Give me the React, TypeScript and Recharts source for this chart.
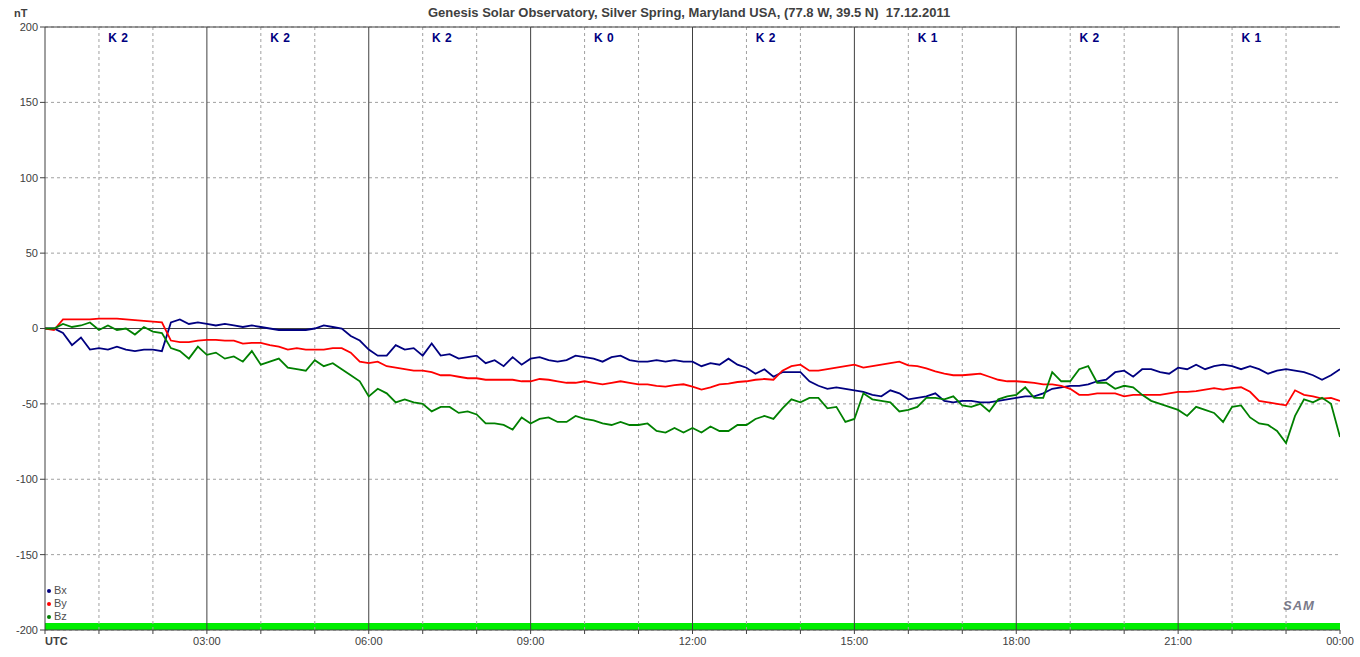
import { LineChart, Line, XAxis, YAxis, CartesianGrid, ReferenceLine, ReferenceArea, ReferenceDot } from "recharts";

// 10-minute readings, 00:00 .. 24:00 UTC
const BX = [
  0, 0, -3, -11, -6, -14, -13, -14, -12, -14, -15, -14, -14, -15, 4, 6, 3, 4,
  3, 2, 3, 2, 1, 2, 1, 0, -1, -1, -1, -1, 0, 2, 1, 0, -5, -8,
  -14, -18, -18, -11, -14, -13, -18, -10, -18, -17, -20, -19, -18, -23, -21, -25, -19, -24,
  -20, -19, -21, -22, -21, -18, -19, -20, -22, -19, -18, -21, -22, -22, -21, -22, -21, -22,
  -22, -25, -23, -24, -20, -24, -26, -30, -27, -32, -29, -29, -29, -35, -38, -40, -39, -40,
  -41, -42, -44, -45, -41, -43, -47, -46, -45, -43, -48, -49, -48, -48, -49, -49, -48, -47,
  -46, -45, -45, -43, -40, -39, -38, -38, -37, -35, -34, -29, -28, -32, -27, -27, -29, -30,
  -26, -27, -24, -27, -25, -24, -25, -27, -25, -27, -30, -28, -27, -28, -29, -31, -34, -31, -27,
];
const BY = [
  0, -1, 6, 6, 6, 6, 6.5, 6.5, 6.5, 6, 5.5, 5, 4.5, 4, -8, -9, -9, -8,
  -7.5, -7.5, -8, -8, -10, -9.5, -9.5, -11, -12, -14, -13, -14, -14, -14, -13, -13, -16, -22,
  -23, -22, -25, -26, -27, -28, -28, -29, -31, -31, -32, -33, -33, -34, -34, -34, -34, -35,
  -35, -33.5, -34, -35, -36, -36, -35, -36, -37, -36, -35, -36, -37, -37, -38, -38.5, -37.5, -37,
  -38.5, -40.5, -39, -37, -36.5, -35.5, -35, -34, -33.5, -34, -28, -25, -24, -28, -28, -27, -26, -25,
  -24, -26, -25, -24, -23, -22, -24.5, -25, -26.5, -28.5, -30, -31, -31, -30.5, -30, -32, -34, -35,
  -35, -35.5, -36, -37, -37, -38, -40, -44, -44, -43, -43, -43, -45, -44, -44, -44, -44, -43,
  -42, -42, -41.5, -40.5, -39.5, -40.5, -39.5, -39, -42, -48, -49, -50, -51, -41, -44, -45, -46.5, -46, -48,
];
const BZ = [
  0, 0, 3, 1, 2, 4, -1, 2, -1, 0, -4, 1, -2, -3, -13, -15, -20, -12,
  -17.5, -16, -20, -18.5, -22, -15, -24, -22, -20, -26, -27, -28, -21, -25, -23, -27, -31, -35,
  -45, -40, -43, -49, -47, -49, -50, -55, -52, -52, -56, -55, -57, -63, -63, -64, -67, -59,
  -63, -60, -59, -62, -62, -58, -60, -61, -63, -64, -62, -64, -64, -63, -68, -69, -66, -69,
  -66, -69, -65, -68, -68, -64, -64, -60, -58, -60, -53, -47, -49, -46, -46, -53, -52, -62,
  -60, -43, -47, -48, -49, -55, -54, -52, -46, -46, -47, -45, -51, -52, -50, -55, -47, -45,
  -44, -39, -46, -46, -29, -35, -35, -27, -25, -36, -36, -40, -38, -39, -44, -48, -50, -52,
  -54, -58, -52, -54, -56, -62, -52, -51, -59, -63, -64, -68, -76, -58, -47, -49, -46, -50, -72,
];
const K_INDEX = ["K 2", "K 2", "K 2", "K 0", "K 2", "K 1", "K 2", "K 1"];
const Y_TICKS = [-200, -150, -100, -50, 0, 50, 100, 150, 200];
const HOUR_TICKS = Array.from({ length: 25 }, (_, i) => i);

const data = BX.map((bx, i) => ({ t: i / 6, bx, by: BY[i], bz: BZ[i] }));

const FONT = "'Liberation Sans', Arial, sans-serif";
const AXIS = "#404040";

function HourTick(props: any) {
  const { x, y, payload } = props;
  const h = payload.value;
  if (h % 3 !== 0) return null;
  if (h === 0)
    return <text x={x} y={y} dy={9} textAnchor="start" fontFamily={FONT} fontSize={11} fontWeight="bold" fill={AXIS}>UTC</text>;
  const label = h === 24 ? "00:00" : `${String(h).padStart(2, "0")}:00`;
  return <text x={x} y={y} dy={9} textAnchor="middle" fontFamily={FONT} fontSize={11} fill={AXIS}>{label}</text>;
}

const legendItems = [
  { name: "Bx", color: "#000080" },
  { name: "By", color: "#ff0000" },
  { name: "Bz", color: "#008000" },
];

export default function App() {
  return (
    <div style={{ position: "absolute", left: 0, top: 0, width: 1360, height: 657, background: "#fff", fontFamily: FONT }}>
      <div style={{ position: "absolute", left: 428, top: 5, whiteSpace: "nowrap", fontSize: 13, fontWeight: "bold", color: AXIS }}>
        Genesis Solar Observatory, Silver Spring, Maryland USA, (77.8 W, 39.5 N)&nbsp;&nbsp;17.12.2011
      </div>
      <div style={{ position: "absolute", left: 14, top: 7, fontSize: 11, fontWeight: "bold", color: AXIS }}>nT</div>
      <LineChart width={1360} height={657} data={data} margin={{ top: 27, right: 20, left: 0, bottom: 0 }}>
        <CartesianGrid vertical={false} stroke="#a0a0a0" strokeDasharray="3 3" />
        {HOUR_TICKS.filter((h) => h > 0 && h < 24).map((h) => (
          <ReferenceLine key={h} x={h} stroke={h % 3 === 0 ? AXIS : "#a0a0a0"} strokeDasharray={h % 3 === 0 ? undefined : "3 3"} />
        ))}
        <ReferenceLine y={0} stroke={AXIS} />
        <ReferenceLine y={200} stroke={AXIS} />
        <XAxis
          type="number"
          dataKey="t"
          domain={[0, 24]}
          ticks={HOUR_TICKS}
          interval={0}
          height={27}
          tickSize={4}
          stroke={AXIS}
          tick={<HourTick />}
          allowDataOverflow
        />
        <YAxis
          type="number"
          domain={[-200, 200]}
          ticks={Y_TICKS}
          interval={0}
          width={45}
          tickSize={5}
          stroke={AXIS}
          tick={{ fontSize: 11, fill: AXIS, fontFamily: FONT }}
        />
        <ReferenceArea y1={-200} y2={-195.4} fill="#00ee00" fillOpacity={1} stroke="none" ifOverflow="visible" />
        <Line type="linear" dataKey="bx" stroke="#000080" strokeWidth={1.8} dot={false} isAnimationActive={false} />
        <Line type="linear" dataKey="by" stroke="#ff0000" strokeWidth={1.8} dot={false} isAnimationActive={false} />
        <Line type="linear" dataKey="bz" stroke="#008000" strokeWidth={1.8} dot={false} isAnimationActive={false} />
        {K_INDEX.map((k, i) => (
          <ReferenceDot
            key={i}
            x={i * 3 + 1.36}
            y={193}
            r={0}
            shape={(p: any) => (
              <text x={p.cx} y={p.cy} dy={4} textAnchor="middle" fontFamily={FONT} fontSize={12} fontWeight="bold" fill="#000080" letterSpacing={0.5}>{k}</text>
            )}
          />
        ))}
      </LineChart>
      <div style={{ position: "absolute", left: 47, top: 584, fontSize: 11, color: "#505050", lineHeight: "13px" }}>
        {legendItems.map((it) => (
          <div key={it.name} style={{ display: "flex", alignItems: "center" }}>
            <span style={{ display: "inline-block", width: 4, height: 4, borderRadius: 2, background: it.color, marginRight: 3 }} />
            {it.name}
          </div>
        ))}
      </div>
      <div style={{ position: "absolute", left: 1283, top: 598, fontSize: 13, fontStyle: "italic", fontWeight: "bold", color: "#7a7a8a", letterSpacing: 1 }}>
        SAM
      </div>
    </div>
  );
}
